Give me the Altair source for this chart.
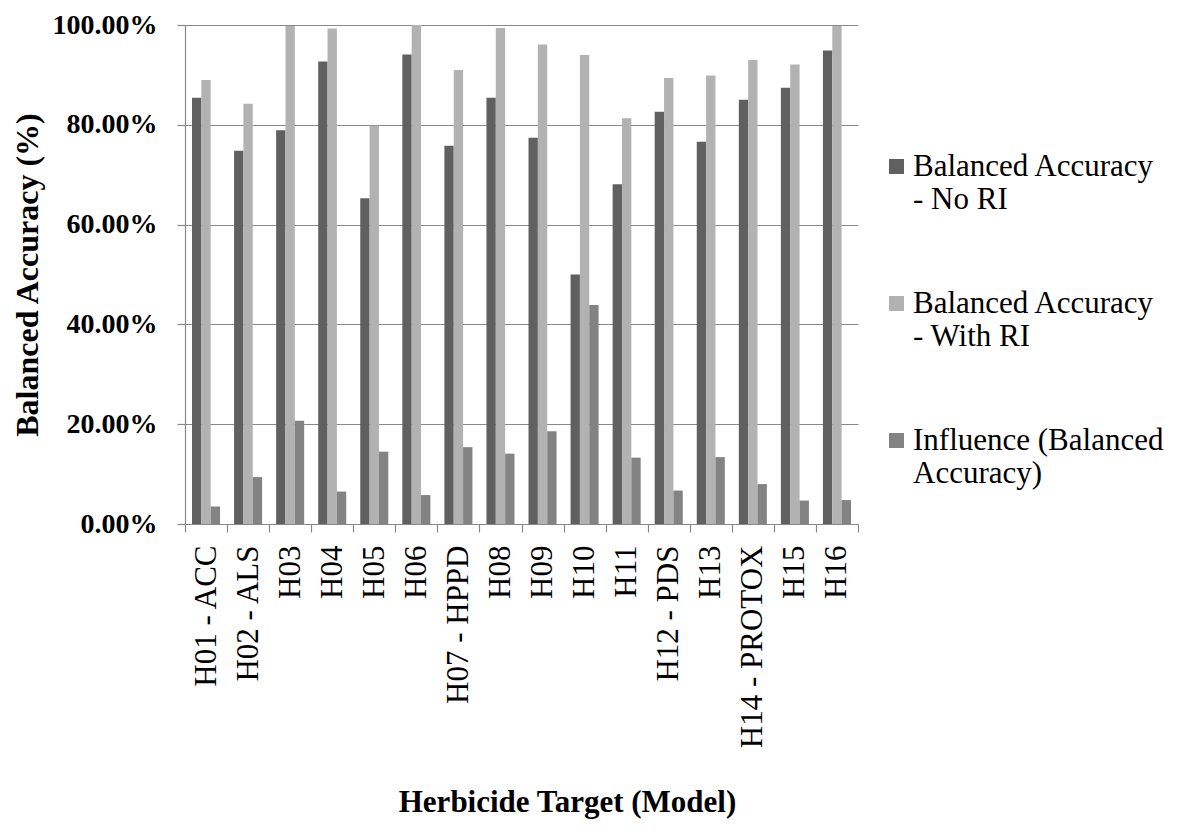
import altair as alt
import pandas as pd

categories = ["H01 - ACC", "H02 - ALS", "H03", "H04", "H05", "H06", "H07 - HPPD", "H08",
              "H09", "H10", "H11", "H12 - PDS", "H13", "H14 - PROTOX", "H15", "H16"]
series_names = ["Balanced Accuracy - No RI", "Balanced Accuracy - With RI", "Influence (Balanced Accuracy)"]
no_ri = [85.4, 74.8, 78.9, 92.7, 65.3, 94.1, 75.8, 85.4, 77.4, 50.0, 68.1, 82.6, 76.6, 85.0, 87.4, 94.9]
with_ri = [89.0, 84.2, 99.8, 99.3, 79.8, 100.0, 91.0, 99.4, 96.1, 94.0, 81.3, 89.4, 89.9, 93.0, 92.1, 99.8]
influence = [3.5, 9.4, 20.7, 6.5, 14.5, 5.8, 15.4, 14.1, 18.6, 43.9, 13.3, 6.7, 13.4, 8.0, 4.7, 4.8]
colors = ["#606060", "#b2b2b2", "#838383"]
legend_lines = {
    "Balanced Accuracy - No RI": ["Balanced Accuracy", "- No RI"],
    "Balanced Accuracy - With RI": ["Balanced Accuracy", "- With RI"],
    "Influence (Balanced Accuracy)": ["Influence (Balanced", "Accuracy)"],
}

rows = []
for s, vals in zip(series_names, [no_ri, with_ri, influence]):
    for c, v in zip(categories, vals):
        rows.append({"Model": c, "Series": s, "Value": v})
df = pd.DataFrame(rows)

FONT = "Liberation Serif"

label_expr = ""
for k, lines in legend_lines.items():
    arr = "[" + ",".join("'" + l + "'" for l in lines) + "]"
    label_expr += f"datum.label == '{k}' ? {arr} : "
label_expr += "datum.label"

chart = alt.Chart(df).mark_bar().encode(
    x=alt.X("Model:N", sort=categories,
            scale=alt.Scale(paddingInner=0, paddingOuter=0),
            axis=alt.Axis(title="Herbicide Target (Model)", labelAngle=-90,
                          labelFontSize=31, labelFont=FONT, labelColor="black",
                          labelPadding=13, labelLimit=400,
                          tickBand="extent", tickSize=8, tickColor="#898989",
                          domainColor="#898989", grid=False,
                          titleFont=FONT, titleFontSize=31, titleFontWeight="bold",
                          titleColor="black", titleBaseline="alphabetic",
                          titleX=382, titleY=287)),
    xOffset=alt.XOffset("Series:N", sort=series_names,
                        scale=alt.Scale(paddingInner=0, paddingOuter=0.75)),
    y=alt.Y("Value:Q", scale=alt.Scale(domain=[0, 100], nice=False),
            axis=alt.Axis(title="Balanced Accuracy (%)", values=[0, 20, 40, 60, 80, 100],
                          labelExpr="format(datum.value, '.2f') + '%'",
                          labelFont=FONT, labelFontSize=28, labelFontWeight="bold",
                          labelColor="black", labelPadding=20,
                          tickSize=8, tickColor="#898989", domainColor="#898989",
                          gridColor="#898989", gridWidth=1.2,
                          titleFont=FONT, titleFontSize=32, titleFontWeight="bold",
                          titleColor="black", titlePadding=8)),
    color=alt.Color("Series:N", sort=series_names,
                    scale=alt.Scale(domain=series_names, range=colors),
                    legend=alt.Legend(title=None, orient="none", legendX=696, legendY=126,
                                      labelExpr=label_expr, labelFont=FONT, labelFontSize=31,
                                      labelColor="black", labelLimit=400, labelBaseline="middle",
                                      labelOffset=1, symbolSize=225, symbolType="square",
                                      symbolStrokeWidth=0, symbolOpacity=1,
                                      rowPadding=72, padding=0)),
).properties(width=673, height=499,
             autosize=alt.AutoSizeParams(type="none"),
             padding={"left": 177, "top": 17, "right": 311, "bottom": 300})

chart = chart.configure_view(stroke=None).configure_axis(domainWidth=1.2, tickWidth=1.2)

chart.save("out.html", embed_options={"renderer": "svg", "actions": False})
